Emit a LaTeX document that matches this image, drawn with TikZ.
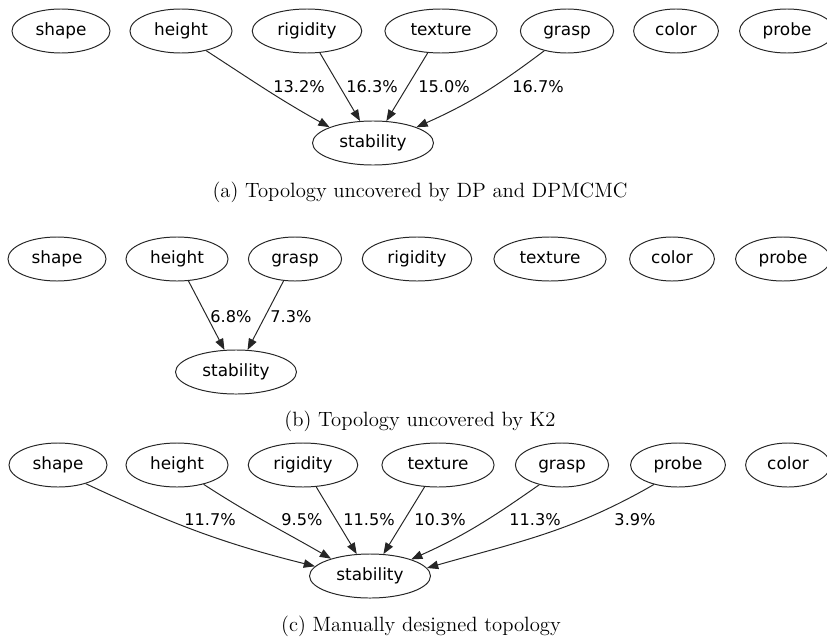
\documentclass[tikz,border=0pt]{standalone}
\usepackage{fontspec}
\newfontfamily\graphfont{DejaVu Sans}
\usetikzlibrary{shapes.geometric,arrows.meta}

\begin{document}
\begin{tikzpicture}[x=0.025cm, y=0.025cm,
    var/.style={draw=black!85, ellipse, line width=0.7pt, inner xsep=0.23cm, inner ysep=0pt, minimum height=1.1cm, text height=9pt, text depth=2.5pt, font=\graphfont\fontsize{12}{14}\selectfont},
    pct/.style={font=\graphfont\fontsize{11.5}{13}\selectfont, inner sep=0pt},
    dep/.style={-{Triangle[length=8pt,width=6pt]}, line width=0.7pt, draw=black!85},
    subcap/.style={font=\fontsize{14.7}{17}\selectfont}
  ]
    \useasboundingbox (0,0) rectangle (827,-637);

    % (a) DP and DPMCMC
    \node[var] (shapeA) at (61,-31) {shape};
    \node[var] (heightA) at (181,-31) {height};
    \node[var] (rigidA) at (307,-31) {rigidity};
    \node[var] (textureA) at (441,-31) {texture};
    \node[var] (graspA) at (567,-31) {grasp};
    \node[var] (colorA) at (676,-31) {color};
    \node[var] (probeA) at (787,-31) {probe};
    \node[var] (stabA) at (373,-143) {stability};

    \draw[dep] (heightA.-38) to[out=-33, in=151] (stabA.160);
    \draw[dep] (rigidA) -- (stabA);
    \draw[dep] (textureA) -- (stabA);
    \draw[dep] (graspA.-139) to[out=-143, in=24] (stabA.20);

    \node[pct] (pctA1) at (299,-87) {13.2\%};
    \node[pct] (pctA2) at (372,-87) {16.3\%};
    \node[pct] (pctA3) at (444,-87) {15.0\%};
    \node[pct] (pctA4) at (538,-87) {16.7\%};
    \node[subcap] (capA) at (420,-192) {(a) Topology uncovered by DP and DPMCMC};

    % (b) K2
    \node[var] (shapeB) at (57,-259) {shape};
    \node[var] (heightB) at (177,-259) {height};
    \node[var] (graspB) at (295,-259) {grasp};
    \node[var] (rigidB) at (417,-259) {rigidity};
    \node[var] (textureB) at (550,-259) {texture};
    \node[var] (colorB) at (672,-259) {color};
    \node[var] (probeB) at (783,-259) {probe};
    \node[var] (stabB) at (236,-372) {stability};

    \draw[dep] (heightB) -- (stabB);
    \draw[dep] (graspB) -- (stabB);

    \node[pct] (pctB1) at (231,-317) {6.8\%};
    \node[pct] (pctB2) at (291,-317) {7.3\%};
    \node[subcap] (capB) at (420,-421) {(b) Topology uncovered by K2};

    % (c) manual
    \node[var] (shapeC) at (58,-465) {shape};
    \node[var] (heightC) at (177,-465) {height};
    \node[var] (rigidC) at (303,-465) {rigidity};
    \node[var] (textureC) at (438,-465) {texture};
    \node[var] (graspC) at (562,-465) {grasp};
    \node[var] (probeC) at (678,-465) {probe};
    \node[var] (colorC) at (788,-465) {color};
    \node[var] (stabC) at (370,-576) {stability};

    \draw[dep] (shapeC.-34) to[out=-25, in=166] (stabC.170);
    \draw[dep] (heightC.-36) to[out=-33, in=150] (stabC.156);
    \draw[dep] (rigidC) -- (stabC);
    \draw[dep] (textureC) -- (stabC);
    \draw[dep] (graspC.-139) to[out=-145, in=24] (stabC.22);
    \draw[dep] (probeC.-141) to[out=-150, in=16] (stabC.8);

    \node[pct] (pctC1) at (210,-520) {11.7\%};
    \node[pct] (pctC2) at (302,-520) {9.5\%};
    \node[pct] (pctC3) at (369,-520) {11.5\%};
    \node[pct] (pctC4) at (440,-520) {10.3\%};
    \node[pct] (pctC5) at (535,-520) {11.3\%};
    \node[pct] (pctC6) at (635,-520) {3.9\%};
    \node[subcap] (capC) at (421,-626) {(c) Manually designed topology};
\end{tikzpicture}
\end{document}
